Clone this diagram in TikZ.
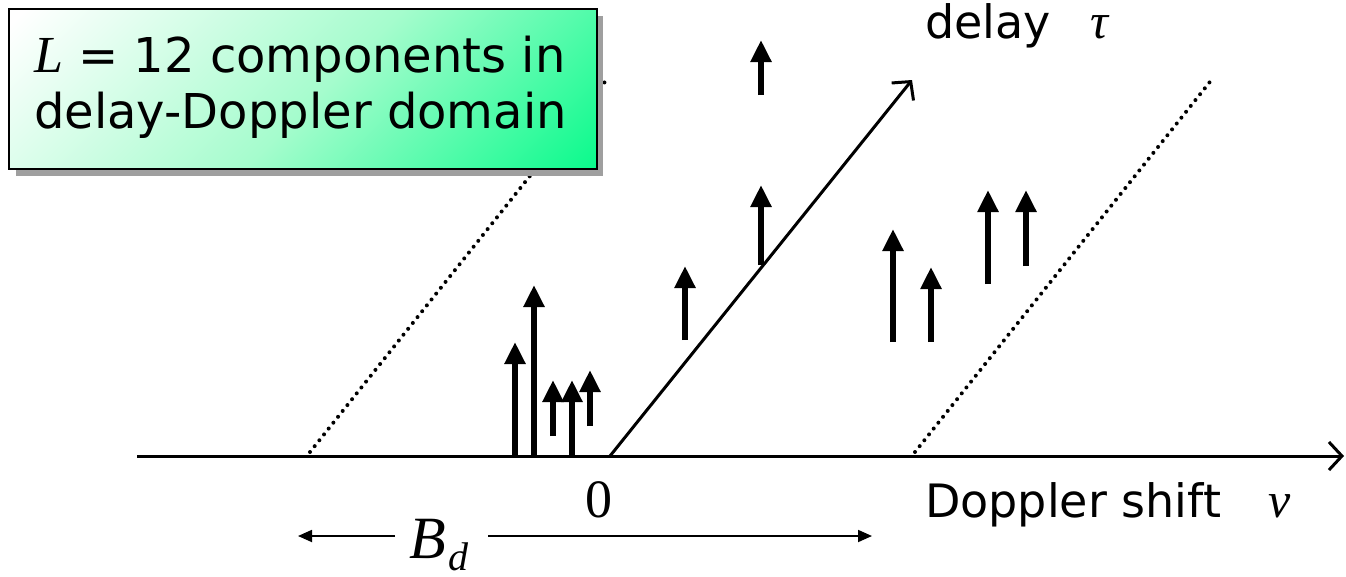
\documentclass[tikz,border=0pt]{standalone}
\usepackage{fontspec}
\setmainfont{Liberation Serif}
\newfontfamily\dejavu{DejaVu Sans}
\usetikzlibrary{arrows.meta}
\definecolor{mint}{RGB}{10,250,140}
\definecolor{mintmid}{RGB}{165,252,205}
\pgfdeclarehorizontalshading{boxshade}{100bp}{color(0bp)=(white); color(16bp)=(white); color(52bp)=(mintmid); color(85.4bp)=(mint); color(100bp)=(mint)}
\begin{document}
\begin{tikzpicture}[x=1pt,y=-1pt,
  imp/.style={line width=5.8pt,-{Triangle[width=20pt,length=22pt]}},
  axisline/.style={line width=3pt,-{Straight Barb[length=13pt,width=28pt,line width=3pt]}},
  dotline/.style={line width=4pt,dash pattern=on 0pt off 7.5pt,line cap=round},
  bdline/.style={line width=1.8pt,-{Triangle[length=14pt,width=12pt]}},
  sanslabel/.style={font=\dejavu\fontsize{46}{46}\selectfont,inner sep=0pt},
  boxlabel/.style={font=\dejavu\fontsize{48}{48}\selectfont,inner sep=0pt},
  seriflabel/.style={inner sep=0pt}]
\useasboundingbox (0,0) rectangle (1346,576);
% axes
\coordinate (h0) at (137,456);
\coordinate (h1) at (1344,456);
\coordinate (d0) at (610,456);
\coordinate (d1) at (912,80);
\draw[axisline] (h0) -- (h1);
\draw[axisline] (d0) -- (d1);
% dotted bounds
\coordinate (l0) at (310,452);
\coordinate (l1) at (608,78);
\coordinate (r0) at (915,452);
\coordinate (r1) at (1213,78);
\draw[dotline] (l0) -- (l1);
\draw[dotline] (r0) -- (r1);
% impulses
\foreach \x/\a/\b in {515/455/342, 534/455/285, 553/436/380, 572/455/380, 590/426/370,
  685/340/266, 761/95/40, 761/265/185, 893/342/229, 931/342/267, 988/284/190, 1026/266/190}
  \draw[imp] (\x,\a) -- (\x,\b);
% labels
\node[sanslabel,anchor=base west] (dl) at (925,38) {delay};
\node[seriflabel,anchor=base west,font=\fontsize{50}{50}\selectfont\itshape] (tau) at (1090,38) {τ};
\node[sanslabel,anchor=base west] (ds) at (925,517) {Doppler shift};
\node[seriflabel,anchor=base west,font=\fontsize{50}{50}\selectfont\itshape] (nu) at (1268,517) {ν};
\node[seriflabel,anchor=base,font=\fontsize{54}{54}\selectfont] (zero) at (599,517) {0};
% B_d
\node[seriflabel,anchor=base west,font=\fontsize{60}{60}\selectfont\itshape] (bd) at (409,558) {B\hspace{3pt}\raisebox{-12pt}{\fontsize{40}{40}\selectfont d}};
\coordinate (bl) at (395,536);
\coordinate (ble) at (298,536);
\coordinate (br) at (488,536);
\coordinate (bre) at (872,536);
\draw[bdline] (bl) -- (ble);
\draw[bdline] (br) -- (bre);
% box
\fill[gray!75] (16,16) rectangle (603,176);
\shadedraw[line width=1.5pt, shading=boxshade, shading angle=-45] (9,9) rectangle (597,169);
\node[boxlabel,anchor=base west] (t1) at (34,72) {{\rmfamily\itshape\fontsize{52}{52}\selectfont L} = 12 components in};
\node[boxlabel,anchor=base west] (t2) at (34,128) {delay-Doppler domain};
\end{tikzpicture}
\end{document}
